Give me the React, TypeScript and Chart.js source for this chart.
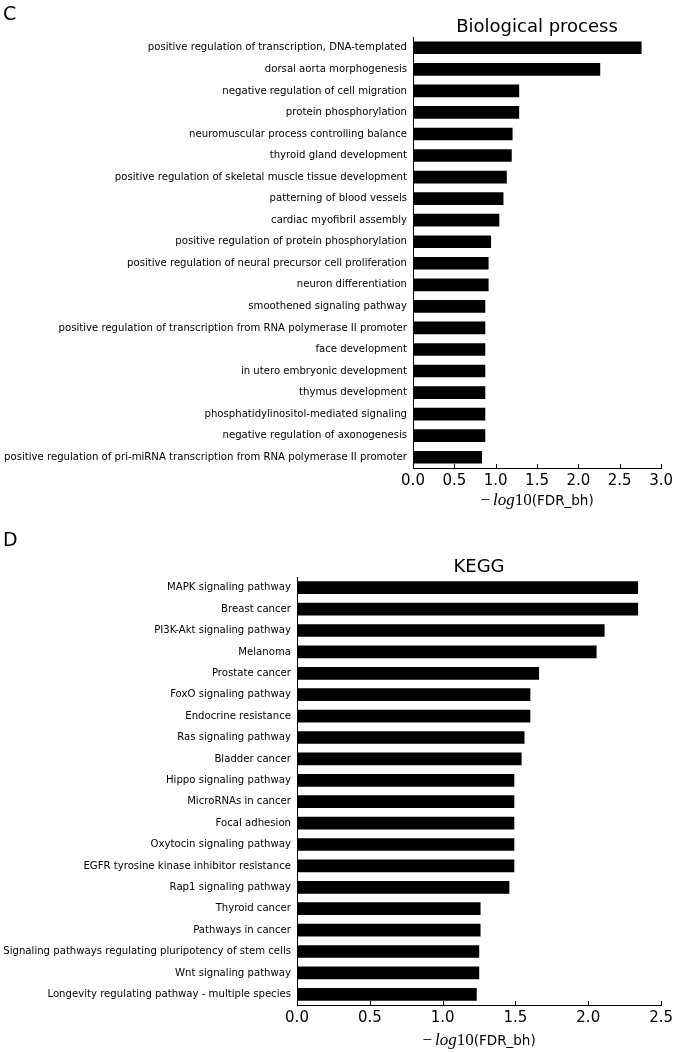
import React, { useEffect, useRef } from "react";
import { Chart, registerables } from "chart.js";

Chart.register(...registerables);

// ---------- Data ----------
const bpCategories = [
  "positive regulation of transcription, DNA-templated",
  "dorsal aorta morphogenesis",
  "negative regulation of cell migration",
  "protein phosphorylation",
  "neuromuscular process controlling balance",
  "thyroid gland development",
  "positive regulation of skeletal muscle tissue development",
  "patterning of blood vessels",
  "cardiac myofibril assembly",
  "positive regulation of protein phosphorylation",
  "positive regulation of neural precursor cell proliferation",
  "neuron differentiation",
  "smoothened signaling pathway",
  "positive regulation of transcription from RNA polymerase II promoter",
  "face development",
  "in utero embryonic development",
  "thymus development",
  "phosphatidylinositol-mediated signaling",
  "negative regulation of axonogenesis",
  "positive regulation of pri-miRNA transcription from RNA polymerase II promoter",
];
const bpValues = [
  2.76, 2.26, 1.28, 1.28, 1.2, 1.19, 1.13, 1.09, 1.04, 0.94, 0.91, 0.91, 0.87,
  0.87, 0.87, 0.87, 0.87, 0.87, 0.87, 0.83,
];
const bpTicks = [0, 0.5, 1.0, 1.5, 2.0, 2.5, 3.0];

const keggCategories = [
  "MAPK signaling pathway",
  "Breast cancer",
  "PI3K-Akt signaling pathway",
  "Melanoma",
  "Prostate cancer",
  "FoxO signaling pathway",
  "Endocrine resistance",
  "Ras signaling pathway",
  "Bladder cancer",
  "Hippo signaling pathway",
  "MicroRNAs in cancer",
  "Focal adhesion",
  "Oxytocin signaling pathway",
  "EGFR tyrosine kinase inhibitor resistance",
  "Rap1 signaling pathway",
  "Thyroid cancer",
  "Pathways in cancer",
  "Signaling pathways regulating pluripotency of stem cells",
  "Wnt signaling pathway",
  "Longevity regulating pathway - multiple species",
];
const keggValues = [
  2.34, 2.34, 2.11, 2.055, 1.66, 1.6, 1.6, 1.56, 1.54, 1.49, 1.49, 1.49, 1.49,
  1.49, 1.456, 1.258, 1.258, 1.249, 1.249, 1.232,
];
const keggTicks = [0, 0.5, 1.0, 1.5, 2.0, 2.5];

const bpTitle = "Biological process";
const keggTitle = "KEGG";
const axisMath = ["−", "log", "10"];
const axisText = "(FDR_bh)";

const SANS = '"DejaVu Sans"';
const SERIF = '"Liberation Serif"';

type PanelCfg = {
  categories: string[];
  values: number[];
  ticks: number[];
  title: string;
  letter: string;
  height: number;
  area: { left: number; right: number; top: number; bottom: number };
  titleY: number;
  letterX: number;
  letterY: number;
  axisTitleY: number;
};

function makePlugin(cfg: PanelCfg) {
  return {
    id: "decor",
    afterDraw(chart: any) {
      const { ctx, chartArea } = chart;
      const xs = chart.scales.x;
      ctx.save();
      // inward x ticks
      ctx.strokeStyle = "#000";
      ctx.lineWidth = 1;
      xs.ticks.forEach((t: any) => {
        const px = Math.round(xs.getPixelForValue(t.value)) + 0.5;
        ctx.beginPath();
        ctx.moveTo(px, chartArea.bottom);
        ctx.lineTo(px, chartArea.bottom - 4);
        ctx.stroke();
      });
      ctx.fillStyle = "#000";
      ctx.textBaseline = "alphabetic";
      // title
      ctx.font = `18px ${SANS}`;
      ctx.textAlign = "center";
      ctx.fillText(cfg.title, (chartArea.left + chartArea.right) / 2, cfg.titleY);
      // panel letter
      ctx.font = `19px ${SANS}`;
      ctx.textAlign = "left";
      ctx.fillText(cfg.letter, cfg.letterX, cfg.letterY);
      // axis title with math part
      const parts = [
        { t: axisMath[0], f: `17px ${SERIF}`, gap: 3 },
        { t: axisMath[1], f: `italic 17px ${SERIF}`, gap: 0 },
        { t: axisMath[2], f: `17px ${SERIF}`, gap: 0 },
        { t: axisText, f: `13.5px ${SANS}`, gap: 0 },
      ];
      let total = 0;
      parts.forEach((p) => {
        ctx.font = p.f;
        total += ctx.measureText(p.t).width + p.gap;
      });
      let x = (chartArea.left + chartArea.right) / 2 - total / 2;
      parts.forEach((p) => {
        ctx.font = p.f;
        ctx.fillText(p.t, x, cfg.axisTitleY);
        x += ctx.measureText(p.t).width + p.gap;
      });
      ctx.restore();
    },
  };
}

function Panel({ cfg, top }: { cfg: PanelCfg; top: number }) {
  const ref = useRef<HTMLCanvasElement | null>(null);
  useEffect(() => {
    if (!ref.current) return;
    const W = 677;
    const H = cfg.height;
    const chart = new Chart(ref.current, {
      type: "bar",
      data: {
        labels: cfg.categories,
        datasets: [
          {
            data: cfg.values,
            backgroundColor: "#000",
            borderWidth: 0,
            barThickness: 12,
          },
        ],
      },
      options: {
        indexAxis: "y",
        animation: false,
        responsive: false,
        maintainAspectRatio: false,
        devicePixelRatio: 1,
        layout: {
          padding: { left: 0, right: W - cfg.area.right, top: cfg.area.top, bottom: 0 },
        },
        plugins: {
          legend: { display: false },
          title: { display: false },
          tooltip: { enabled: false },
        },
        scales: {
          x: {
            type: "linear",
            min: cfg.ticks[0],
            max: cfg.ticks[cfg.ticks.length - 1],
            afterBuildTicks: (scale: any) => {
              scale.ticks = cfg.ticks.map((v) => ({ value: v }));
            },
            afterFit: (scale: any) => {
              scale.height = H - cfg.area.bottom;
            },
            grid: { display: false, drawTicks: false },
            border: { display: true, color: "#000", width: 1 },
            ticks: {
              color: "#000",
              font: { family: "DejaVu Sans", size: 15 },
              padding: 4,
              maxRotation: 0,
              callback: (v: any) => Number(v).toFixed(1),
            },
          },
          y: {
            type: "category",
            afterFit: (scale: any) => {
              scale.width = cfg.area.left;
            },
            grid: { display: false, drawTicks: false },
            border: { display: true, color: "#000", width: 1 },
            ticks: {
              color: "#000",
              font: { family: "DejaVu Sans", size: 10.15 },
              padding: 6,
              autoSkip: false,
            },
          },
        },
      },
      plugins: [makePlugin(cfg)],
    } as any);
    return () => chart.destroy();
  }, [cfg]);
  return (
    <canvas
      ref={ref}
      width={677}
      height={cfg.height}
      style={{ position: "absolute", left: 0, top, width: 677, height: cfg.height }}
    />
  );
}

const bpCfg: PanelCfg = {
  categories: bpCategories,
  values: bpValues,
  ticks: bpTicks,
  title: bpTitle,
  letter: "C",
  height: 525,
  area: { left: 413, right: 662, top: 37, bottom: 468 },
  titleY: 32,
  letterX: 3,
  letterY: 20,
  axisTitleY: 505,
};

const keggCfg: PanelCfg = {
  categories: keggCategories,
  values: keggValues,
  ticks: keggTicks,
  title: keggTitle,
  letter: "D",
  height: 527,
  area: { left: 297, right: 663, top: 52, bottom: 480 },
  titleY: 47,
  letterX: 3,
  letterY: 21,
  axisTitleY: 520,
};

export default function App() {
  return (
    <div
      style={{
        position: "absolute",
        left: 0,
        top: 0,
        width: 677,
        height: 1052,
        background: "#fff",
      }}
    >
      <Panel cfg={bpCfg} top={0} />
      <Panel cfg={keggCfg} top={525} />
    </div>
  );
}
